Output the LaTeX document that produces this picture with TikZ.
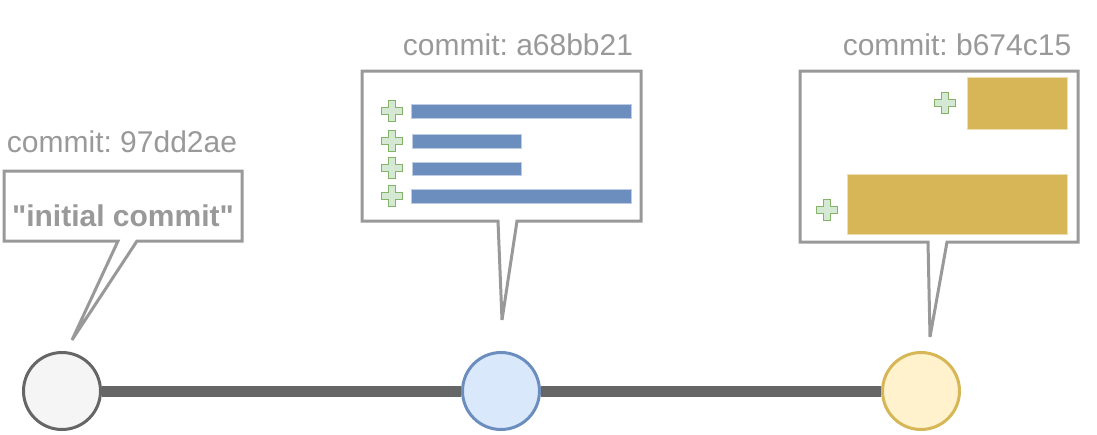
\documentclass[tikz,border=0pt]{standalone}
\usepackage{fontspec}
\setmainfont{Liberation Sans}[Ligatures=TeXOff]
\usepackage{tikz}
\frenchspacing

\definecolor{linegray}{HTML}{666666}
\definecolor{callgray}{HTML}{999999}
\definecolor{initfill}{HTML}{F5F5F5}
\definecolor{bluefill}{HTML}{DAE8FC}
\definecolor{blueline}{HTML}{6C8EBF}
\definecolor{yellowfill}{HTML}{FFF2CC}
\definecolor{yellowline}{HTML}{D6B656}
\definecolor{plusfill}{HTML}{D5E8D4}
\definecolor{plusline}{HTML}{82B366}

\tikzset{
    plusmark/.pic={
        \filldraw[fill=plusfill, draw=plusline, line width=1.5pt]
            (-3.5,-10.5) -- (3.5,-10.5) -- (3.5,-3.5) -- (10.5,-3.5) -- (10.5,3.5)
            -- (3.5,3.5) -- (3.5,10.5) -- (-3.5,10.5) -- (-3.5,3.5) -- (-10.5,3.5)
            -- (-10.5,-3.5) -- (-3.5,-3.5) -- cycle;
    }
}

\begin{document}
\begin{tikzpicture}[
    x=1pt, y=-1pt,
    commit/.style={circle, minimum size=77pt, inner sep=0pt, line width=3pt},
    msgbox/.style={rectangle, inner sep=0pt, outer sep=0pt},
    callout/.style={draw=callgray, line width=3pt, fill=white, line join=miter},
    hashlabel/.style={font=\fontsize{30}{34}\selectfont, text=callgray, anchor=base},
    msgtext/.style={font=\fontsize{30}{34}\selectfont\bfseries, text=callgray, anchor=base},
    bluebar/.style={fill=blueline, draw=blueline!45, line width=0.8pt},
    yellowbar/.style={fill=yellowline, draw=yellowline!45, line width=0.8pt},
    history/.style={draw=linegray, line width=11pt}
]
    \useasboundingbox (0,0) rectangle (1097,434);

    % Commits
    \node[commit, fill=initfill, draw=linegray] (c1) at (62,391) {};
    \node[commit, fill=bluefill, draw=blueline] (c2) at (501,391) {};
    \node[commit, fill=yellowfill, draw=yellowline] (c3) at (921,391) {};
    \draw[history] (c1) -- (c2);
    \draw[history] (c2) -- (c3);

    % First commit
    \node[msgbox, minimum width=238pt, minimum height=70pt] (m1) at (123,206) {};
    \coordinate (p1) at (72,340);
    \draw[callout] ([xshift=-5pt]m1.south) -| (m1.north west) -| (m1.south east)
        -- ([xshift=14pt]m1.south) -- (p1) -- cycle;
    \node[msgtext] (txt1) at (123,226) {"initial commit"};
    \node[hashlabel] (h1) at (122,152) {commit: 97dd2ae};

    % Second commit
    \node[msgbox, minimum width=279pt, minimum height=150pt] (m2) at (501.5,146) {};
    \coordinate (p2) at (502,320);
    \draw[callout] ([xshift=-3.5pt]m2.south) -| (m2.north west) -| (m2.south east)
        -- ([xshift=15.5pt]m2.south) -- (p2) -- cycle;
    \draw[bluebar] (411,104) rectangle (631,118);
    \draw[bluebar] (412,134) rectangle (521,148);
    \draw[bluebar] (412,162) rectangle (521,175);
    \draw[bluebar] (411,189) rectangle (631,203);
    \pic at (392,111) {plusmark};
    \pic at (392,141) {plusmark};
    \pic at (392,168) {plusmark};
    \pic at (392,196) {plusmark};
    \node[hashlabel] (h2) at (518,55) {commit: a68bb21};

    % Third commit
    \node[msgbox, minimum width=278pt, minimum height=171pt] (m3) at (939,156.5) {};
    \coordinate (p3) at (930,337);
    \draw[callout] ([xshift=-11pt]m3.south) -| (m3.north west) -| (m3.south east)
        -- ([xshift=8pt]m3.south) -- (p3) -- cycle;
    \draw[yellowbar] (967,77) rectangle (1067,129);
    \draw[yellowbar] (847,174) rectangle (1067,234);
    \pic at (945,103) {plusmark};
    \pic at (827,210) {plusmark};
    \node[hashlabel] (h3) at (957,55) {commit: b674c15};
\end{tikzpicture}
\end{document}
